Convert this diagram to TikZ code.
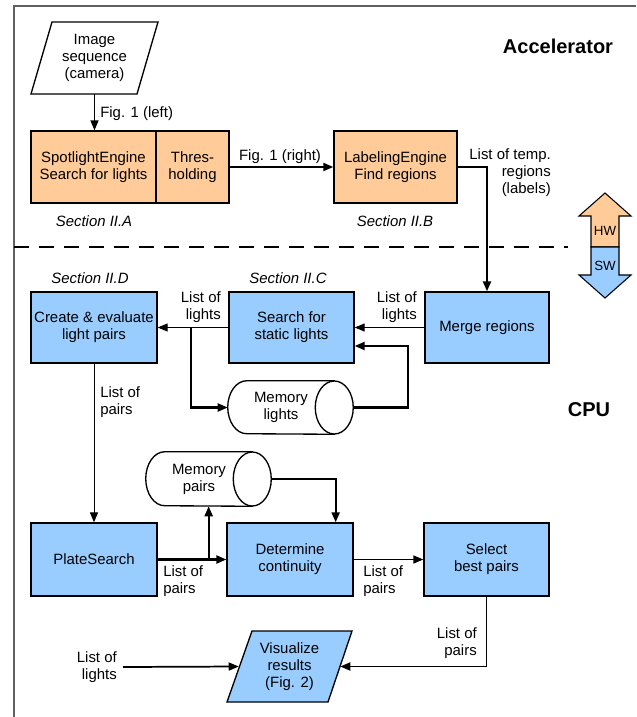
\documentclass[tikz,border=0pt]{standalone}
\usepackage{fontspec}
\setmainfont{Liberation Sans}
\usetikzlibrary{arrows.meta,calc}
\definecolor{hwfill}{RGB}{255,204,153}
\definecolor{swfill}{RGB}{153,204,255}
\definecolor{framegray}{RGB}{96,96,96}
\begin{document}
\begin{tikzpicture}[x=0.75pt,y=-0.75pt,
  font=\fontsize{11.2}{12.75}\selectfont,
  hwbox/.style={draw=black, line width=1pt, fill=hwfill, inner sep=0pt, align=center,
                minimum width=94.5pt, minimum height=54pt},
  swbox/.style={draw=black, line width=1pt, fill=swfill, inner sep=0pt, align=center,
                minimum width=94.5pt, minimum height=53.25pt},
  txt/.style={inner sep=0pt, align=center},
  lbl/.style={inner sep=0pt},
  head/.style={inner sep=0pt, font=\fontsize{15}{18}\selectfont\bfseries},
  sect/.style={inner sep=0pt, font=\fontsize{11.2}{12.75}\selectfont\itshape},
  cyl/.style={draw=black, line width=1pt, fill=white},
  arr/.style={-{Triangle[length=7.5pt,width=6pt]}},
  thin/.style={line width=0.75pt},
  mid/.style={line width=1.1pt},
  thk/.style={line width=1.6pt}]
\useasboundingbox (0,0) rectangle (636,717);

% outer frame and HW/SW separator
\draw[framegray, line width=1.5pt] (14,717) -- (14,6) -- (636,6);
\draw[line width=1.5pt, dash pattern=on 11.25pt off 7.5pt] (14,247) -- (568,247);

% headings
\node[head] (acc) at (558,46) {Accelerator};
\node[head] (cpu) at (589,410) {CPU};

% HW / SW double arrow
\draw[line width=0.8pt, fill=hwfill] (591,247) -- (591,216) -- (579,216) -- (605,193)
  -- (631,216) -- (619,216) -- (619,247) -- cycle;
\draw[line width=0.8pt, fill=swfill] (591,247) -- (591,275) -- (579,275) -- (605,298)
  -- (631,275) -- (619,275) -- (619,247) -- cycle;
\node[inner sep=0pt, font=\fontsize{10}{12}\selectfont] (hw) at (605,231) {HW};
\node[inner sep=0pt, font=\fontsize{10}{12}\selectfont] (sw) at (605,266) {SW};

% camera input
\draw[line width=1pt, fill=white] (52,22) -- (158,22) -- (137,94) -- (31,94) -- cycle;
\node[txt, minimum height=54pt] (img) at (94.5,58) {Image\\sequence\\(camera)};

% accelerator blocks
\node[hwbox, minimum width=93.75pt] (spot) at (93.5,167) {SpotlightEngine\\Search for lights};
\node[hwbox, minimum width=54.75pt] (thr) at (192.5,167) {Thres-\\holding};
\node[hwbox, minimum width=92.25pt] (lab) at (395.5,167) {LabelingEngine\\Find regions};
\node[sect] (secA) at (94,221) {Section II.A};
\node[sect] (secB) at (395,221) {Section II.B};

% CPU blocks
\node[swbox, minimum width=93pt] (merge) at (487,327.5) {Merge regions};
\node[swbox, minimum width=93.75pt] (search) at (291.5,327.5) {Search for\\static lights};
\node[swbox] (create) at (94,327.5) {Create \& evaluate\\light pairs};
\node[swbox, minimum height=54.75pt] (plate) at (94,559.5) {PlateSearch};
\node[swbox, minimum height=54.75pt] (det) at (290,559.5) {Determine\\continuity};
\node[swbox, minimum width=93.75pt, minimum height=54.75pt] (sel) at (486.5,559.5) {Select\\best pairs};
\node[sect] (secD) at (90,278) {Section II.D};
\node[sect] (secC) at (288,278) {Section II.C};

% memory cylinders
\node[txt, minimum width=79.5pt, minimum height=39.75pt] (memL) at (281,407.5) {};
\draw[cyl] (memL.north east) -- ($(memL.north west)+(19,0)$)
  arc[start angle=90, end angle=270, x radius=14.25pt, y radius=19.875pt]
  -- (memL.south east) -- cycle;
\draw[cyl] (memL.east) ellipse [x radius=14.25pt, y radius=19.875pt];
\node[txt] at (memL) {Memory\\lights};
\coordinate (memLr) at ($(memL.east)+(19,0)$);

\node[txt, minimum width=79.5pt, minimum height=40.5pt] (memP) at (199,479) {};
\draw[cyl] (memP.north east) -- ($(memP.north west)+(19,0)$)
  arc[start angle=90, end angle=270, x radius=14.25pt, y radius=20.25pt]
  -- (memP.south east) -- cycle;
\draw[cyl] (memP.east) ellipse [x radius=14.25pt, y radius=20.25pt];
\node[txt] at (memP) {Memory\\pairs};
\coordinate (memPr) at ($(memP.east)+(19,0)$);

% visualisation output
\draw[line width=1pt, fill=swfill] (252,631) -- (352,631) -- (328,702) -- (227,702) -- cycle;
\node[txt, minimum width=75.75pt, minimum height=53.25pt] (vis) at (289.5,666.5) {Visualize\\results\\(Fig. 2)};

% connector labels
\node[lbl, anchor=west] (l1) at (100,114) {Fig. 1 (left)};
\node[lbl] (l2) at (280,157) {Fig. 1 (right)};
\node[lbl, align=right, anchor=east] (l3) at (551,173) {List of temp.\\regions\\(labels)};
\node[lbl, align=right, anchor=east] (l4) at (417,307.5) {List of\\lights};
\node[lbl, align=right, anchor=east] (l5) at (221,307.5) {List of\\lights};
\node[lbl, align=left, anchor=west] (l6) at (100,402.5) {List of\\pairs};
\node[lbl, align=left, anchor=west] (l7) at (163,581.5) {List of\\pairs};
\node[lbl, align=left, anchor=west] (l8) at (363,581.5) {List of\\pairs};
\node[lbl, align=right, anchor=east] (l9) at (477,643.5) {List of\\pairs};
\node[lbl, align=right, anchor=east, inner xsep=4.5pt] (lol) at (123,667) {List of\\lights};

% connectors
\draw[mid, arr] (img.south) -- (img.south |- spot.north);
\draw[thk, arr] (thr.east) -- (lab.west);
\draw[thk, arr] (lab.east) -| (merge.north);
\draw[thin, arr] (merge.west) -- (search.east);
\draw[thin, arr] (search.west) -- (create.east);
\coordinate (br1) at ($(search.west)+(-37,0)$);
\draw[thk, arr] (br1) |- (memL.west);
\draw[thk, arr] (memLr) -| ($(search.east)+(53,18.5)$) -- ($(search.east)+(0,18.5)$);
\draw[thin, arr] (create.south) -- (plate.north);
\draw[thk, arr] (plate.east) -- (det.west);
\coordinate (br2) at ($(plate.east)+(51,0)$);
\draw[thk, arr] (br2) -- (br2 |- memP.south);
\draw[thk, arr] (memPr) -| ($(det.north east)+(-18,0)$);
\draw[mid, arr] (det.east) -- (sel.west);
\draw[line width=1.4pt, arr] (sel.south) |- (vis.east);
\draw[line width=1.3pt, arr] (lol.east) -- (vis.west);
\end{tikzpicture}
\end{document}
